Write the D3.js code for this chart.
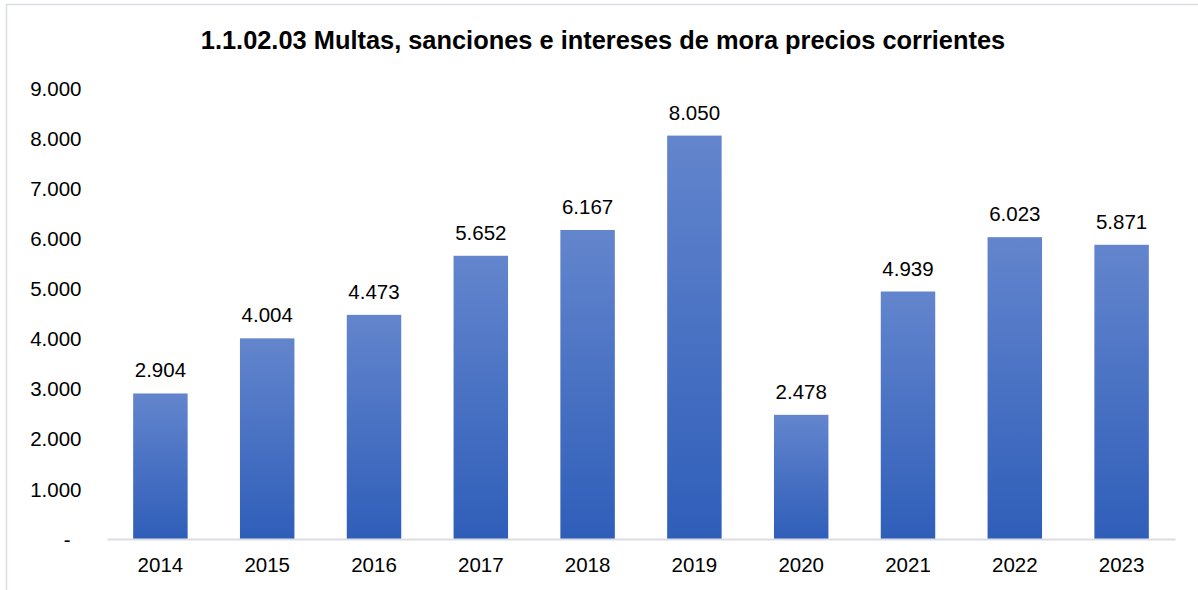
<!DOCTYPE html>
<html>
<head>
<meta charset="utf-8">
<script src="https://cdn.jsdelivr.net/npm/d3@7"></script>
<style>
  html, body { margin: 0; padding: 0; background: #fff; }
  svg { display: block; font-family: "Liberation Sans", Arial, sans-serif; }
</style>
</head>
<body>
<svg id="chart" width="1198" height="590"></svg>
<script>
const years = ["2014", "2015", "2016", "2017", "2018", "2019", "2020", "2021", "2022", "2023"];
const values = [2904, 4004, 4473, 5652, 6167, 8050, 2478, 4939, 6023, 5871];
const yTicks = [0, 1000, 2000, 3000, 4000, 5000, 6000, 7000, 8000, 9000];
const title = "1.1.02.03 Multas, sanciones e intereses de mora precios corrientes";

const svg = d3.select("#chart");
const W = 1198, H = 590;
const margin = { top: 88, right: 23, bottom: 51, left: 107 };

const fmt = v => v === 0 ? "-" : d3.format(",")(v).replace(/,/g, ".");

// outer frame
svg.append("rect")
  .attr("x", 6.5).attr("y", 4.5)
  .attr("width", W + 10).attr("height", H + 10)
  .attr("fill", "#fff").attr("stroke", "#d9dde3").attr("stroke-width", 1.5);

const defs = svg.append("defs");
const grad = defs.append("linearGradient")
  .attr("id", "barGrad").attr("x1", 0).attr("y1", 0).attr("x2", 0).attr("y2", 1);
grad.append("stop").attr("offset", "0%").attr("stop-color", "#6385cd");
grad.append("stop").attr("offset", "100%").attr("stop-color", "#2f5eb9");

const x = d3.scaleBand()
  .domain(years)
  .range([margin.left, W - margin.right])
  .paddingInner(0.49).paddingOuter(0.245);

const y = d3.scaleLinear()
  .domain([0, 9000])
  .range([H - margin.bottom, margin.top]);

// title
svg.append("text")
  .attr("x", 603).attr("y", 49)
  .attr("text-anchor", "middle")
  .attr("font-size", 25.4).attr("font-weight", "bold").attr("fill", "#000")
  .text(title);

// bars
svg.append("g").selectAll("rect")
  .data(values)
  .join("rect")
  .attr("x", (d, i) => x(years[i]))
  .attr("y", d => y(d))
  .attr("width", x.bandwidth())
  .attr("height", d => y(0) - y(d))
  .attr("fill", "url(#barGrad)");

// value labels
svg.append("g").selectAll("text")
  .data(values)
  .join("text")
  .attr("x", (d, i) => x(years[i]) + x.bandwidth() / 2)
  .attr("y", d => y(d) - 16)
  .attr("text-anchor", "middle")
  .attr("font-size", 20.5).attr("fill", "#000")
  .text(d => fmt(d));

// y axis
const yAxis = d3.axisLeft(y).tickValues(yTicks).tickFormat(fmt).tickSize(0).tickPadding(0);
const gy = svg.append("g")
  .attr("transform", `translate(81.5,0)`)
  .call(yAxis);
gy.select(".domain").remove();
gy.selectAll("text").attr("font-size", 20.5).attr("fill", "#000")
  .attr("font-family", "Liberation Sans, Arial, sans-serif")
  .attr("dy", "0.35em");
gy.selectAll(".tick").filter(d => d === 0).select("text")
  .attr("transform", "translate(-11,0)");

// x axis
const xAxis = d3.axisBottom(x).tickSize(0).tickPadding(0);
const gx = svg.append("g")
  .attr("transform", `translate(0,${y(0)})`)
  .call(xAxis);
gx.select(".domain").attr("stroke", "#d9dde3").attr("stroke-width", 2);
gx.selectAll("text").attr("font-size", 20.5).attr("fill", "#000")
  .attr("font-family", "Liberation Sans, Arial, sans-serif")
  .attr("y", 33).attr("dy", 0);
</script>
</body>
</html>
